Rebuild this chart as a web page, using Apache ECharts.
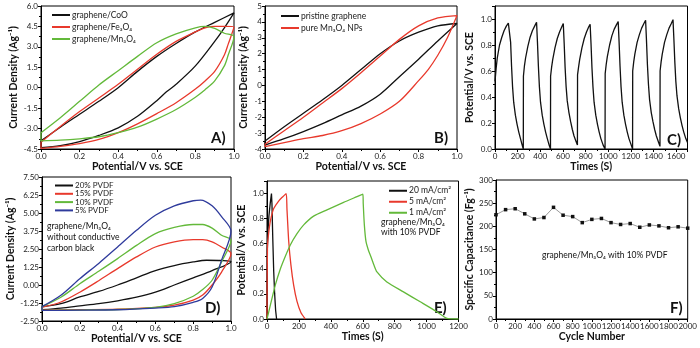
<!DOCTYPE html>
<html><head><meta charset="utf-8">
<script src="https://cdn.jsdelivr.net/npm/echarts@6/dist/echarts.min.js"></script>
<style>html,body{margin:0;padding:0;background:#fff}#c{width:700px;height:348px}</style>
</head><body><div id="c"></div>
<script>
// ---------- Panel A: CV curves ----------
const A_CoO = [[0,-3.9],[0.1,-2.9],[0.2,-1.95],[0.3,-1.0],[0.4,0.0],[0.5,1.2],[0.6,2.3],[0.7,3.25],[0.8,4.1],[0.9,4.8],[1.0,5.5],
  [0.95,4.4],[0.9,3.4],[0.8,1.6],[0.7,0.25],[0.65,-0.3],[0.6,-0.95],[0.5,-2.1],[0.4,-2.95],[0.3,-3.5],[0.2,-3.95],[0.1,-4.25],[0,-4.4],[0,-3.9]];
const A_Fe3O4 = [[0,-4.0],[0.1,-2.85],[0.2,-1.75],[0.3,-0.75],[0.4,0.25],[0.5,1.35],[0.6,2.45],[0.7,3.4],[0.8,4.1],[0.85,4.4],[0.9,4.5],[0.95,4.5],[1.0,4.45],
  [0.97,3.2],[0.95,2.4],[0.9,1.2],[0.85,0.5],[0.8,-0.1],[0.7,-1.1],[0.6,-1.9],[0.5,-2.65],[0.4,-3.3],[0.3,-3.8],[0.2,-4.1],[0.1,-4.3],[0,-4.45],[0,-4.0]];
const A_Mn3O4 = [[0,-3.3],[0.1,-2.2],[0.2,-1.0],[0.3,0.2],[0.4,1.25],[0.5,2.3],[0.6,3.3],[0.7,3.95],[0.8,4.4],[0.85,4.5],[0.9,4.35],[0.95,4.0],[1.0,3.75],
  [0.97,2.4],[0.95,1.6],[0.9,0.5],[0.85,-0.15],[0.8,-0.7],[0.7,-1.6],[0.6,-2.3],[0.5,-2.9],[0.4,-3.3],[0.3,-3.6],[0.2,-3.75],[0.1,-3.85],[0,-3.9],[0,-3.3]];
// ---------- Panel B ----------
const B_graphene = [[0,-3.5],[0.1,-2.6],[0.2,-1.75],[0.3,-0.9],[0.4,0.0],[0.5,1.0],[0.6,2.0],[0.7,2.8],[0.8,3.35],[0.9,3.75],[1.0,3.9],
  [0.9,2.8],[0.8,1.65],[0.7,0.55],[0.6,-0.55],[0.5,-1.3],[0.4,-1.85],[0.3,-2.4],[0.2,-2.9],[0.1,-3.35],[0,-3.75],[0,-3.5]];
const B_Mn3O4 = [[0,-3.7],[0.1,-2.85],[0.2,-2.0],[0.3,-1.1],[0.4,-0.2],[0.5,0.8],[0.6,1.85],[0.7,2.9],[0.8,3.75],[0.9,4.25],[1.0,4.4],
  [0.95,3.0],[0.9,1.9],[0.85,1.0],[0.8,0.3],[0.7,-1.0],[0.6,-1.8],[0.5,-2.4],[0.4,-2.85],[0.3,-3.15],[0.2,-3.35],[0.1,-3.6],[0,-3.85],[0,-3.7]];
// ---------- Panel C: charge/discharge cycles ----------
const C_potential = [
  [0,0.52],[10,0.62],[20,0.7],[40,0.8],[60,0.86],[80,0.91],[100,0.945],[118,0.968],[130,0.98],
  [138,0.82],[146,0.64],[155,0.48],[165,0.36],[180,0.26],[195,0.19],[210,0.13],[225,0.08],[240,0.03],[250,0.0],
  [251,0.56],[260,0.64],[270,0.7],[290,0.79],[310,0.86],[330,0.91],[350,0.945],[367,0.975],
  [375,0.82],[383,0.64],[392,0.48],[402,0.36],[417,0.26],[432,0.19],[447,0.13],[462,0.08],[478,0.03],[490,0.0],
  [491,0.56],[500,0.63],[510,0.69],[530,0.78],[550,0.85],[570,0.9],[590,0.94],[603,0.965],
  [611,0.81],[619,0.63],[628,0.48],[638,0.37],[653,0.28],[668,0.21],[683,0.15],[698,0.1],[715,0.06],[728,0.03],
  [729,0.57],[738,0.63],[748,0.69],[768,0.78],[788,0.85],[808,0.9],[828,0.94],[840,0.96],
  [848,0.81],[856,0.63],[865,0.48],[875,0.36],[890,0.26],[905,0.19],[920,0.13],[935,0.08],[955,0.03],[972,0.0],
  [973,0.58],[982,0.65],[992,0.71],[1012,0.8],[1032,0.87],[1052,0.92],[1072,0.955],[1088,0.98],
  [1096,0.82],[1104,0.64],[1113,0.48],[1123,0.36],[1138,0.26],[1153,0.19],[1168,0.13],[1183,0.08],[1203,0.03],[1215,0.0],
  [1216,0.6],[1225,0.67],[1235,0.73],[1255,0.82],[1275,0.88],[1295,0.93],[1315,0.965],[1330,0.99],
  [1338,0.83],[1346,0.65],[1355,0.5],[1365,0.38],[1380,0.28],[1395,0.21],[1410,0.15],[1425,0.1],[1445,0.05],[1457,0.02],
  [1458,0.6],[1467,0.67],[1477,0.73],[1497,0.82],[1517,0.88],[1537,0.93],[1557,0.965],[1572,0.995],
  [1580,0.84],[1588,0.67],[1597,0.52],[1607,0.41],[1622,0.31],[1637,0.24],[1652,0.18],[1667,0.13],[1685,0.08],[1700,0.05]];
// ---------- Panel D ----------
const D_20 = [[0,-1.5],[0.1,-1.3],[0.2,-0.83],[0.3,-0.45],[0.4,0.0],[0.5,0.5],[0.6,1.0],[0.7,1.35],[0.8,1.6],[0.87,1.72],[0.95,1.7],[1.0,1.62],
  [0.9,1.0],[0.8,0.5],[0.7,0.0],[0.6,-0.5],[0.5,-0.85],[0.4,-1.1],[0.3,-1.3],[0.2,-1.45],[0.1,-1.6],[0,-1.72],[0,-1.5]];
const D_15 = [[0,-1.55],[0.1,-1.18],[0.2,-0.5],[0.3,0.3],[0.4,1.14],[0.5,1.95],[0.6,2.64],[0.7,3.0],[0.8,3.15],[0.85,3.15],[0.9,3.0],[0.95,2.64],[1.0,2.18],
  [0.95,0.9],[0.9,0.0],[0.85,-0.7],[0.8,-1.05],[0.7,-1.4],[0.6,-1.55],[0.4,-1.68],[0.2,-1.72],[0,-1.75],[0,-1.55]];
const D_10 = [[0,-1.5],[0.1,-0.85],[0.2,0.09],[0.3,0.95],[0.4,1.83],[0.5,2.75],[0.6,3.57],[0.7,4.0],[0.8,4.2],[0.85,4.2],[0.9,3.95],[0.95,3.45],[1.0,3.1],
  [0.95,1.6],[0.9,0.33],[0.85,-0.32],[0.8,-0.78],[0.7,-1.3],[0.6,-1.55],[0.4,-1.7],[0.2,-1.74],[0,-1.76],[0,-1.5]];
const D_5 = [[0,-1.5],[0.1,-0.71],[0.2,0.44],[0.3,1.5],[0.4,2.64],[0.5,3.8],[0.6,4.84],[0.7,5.5],[0.8,5.85],[0.84,5.9],[0.9,5.5],[0.95,4.75],[1.0,3.75],
  [0.95,1.72],[0.9,-0.14],[0.85,-0.93],[0.8,-1.2],[0.7,-1.5],[0.6,-1.6],[0.4,-1.72],[0.2,-1.75],[0,-1.76],[0,-1.5]];
// ---------- Panel E ----------
const E_20 = [[0,0],[2,0.55],[6,0.7],[12,0.82],[20,0.92],[28,1.0],[31,0.92],[36,0.65],[42,0.38],[48,0.2],[54,0.07],[60,0.0]];
const E_5 = [[0,0],[3,0.58],[10,0.68],[21,0.78],[42,0.88],[73,0.94],[95,0.97],[120,1.0],[125,0.88],[136,0.62],[150,0.43],[167,0.27],[188,0.14],[213,0.05],[240,0.0]];
const E_1 = [[0,0],[21,0.11],[52,0.27],[84,0.4],[115,0.5],[146,0.59],[188,0.68],[230,0.75],[292,0.82],[376,0.87],[480,0.93],[564,0.975],[601,0.995],
  [603,0.92],[610,0.75],[620,0.62],[635,0.55],[650,0.5],[670,0.43],[689,0.375],[751,0.295],[855,0.216],[960,0.137],[1064,0.058],[1127,0.005],[1200,0.0]];
// ---------- Panel F ----------
const F_cycles = [0,100,200,300,400,500,600,700,800,900,1000,1100,1200,1300,1400,1500,1600,1700,1800,1900,2000];
const F_capacitance = [225,236,238,227,216,219,241,224,221,208,215,217,208,204,206,198,203,201,197,199,196];

const FONT = 'Lato, "Noto Sans", sans-serif';
const BLACK = '#111', RED = '#e8392c', GREEN = '#63b93a', BLUE = '#2f3b9c';

function grid(l,t,w,h){return {left:l,top:t,width:w,height:h,show:true,borderColor:'#000',borderWidth:1,backgroundColor:'transparent'};}
function axis(kind, gi, min, max, interval, dec, name, gap){
  return {type:'value', gridIndex:gi, min, max, interval, name, nameLocation:'middle', nameGap:gap,
    nameTextStyle:{fontWeight:'bold', fontSize:10.5, color:'#111', fontFamily:FONT},
    axisLine:{show:true, onZero:false, lineStyle:{color:'#000', width:1}},
    axisTick:{show:true, inside:false, length:3, lineStyle:{color:'#000'}},
    minorTick:{show:true, splitNumber:2, length:2, lineStyle:{color:'#000'}},
    axisLabel:{fontSize:8, color:'#222', margin:3, fontFamily:FONT,
      formatter: v => {
        const k = (v - min) / interval;
        if (Math.abs(k - Math.round(k)) > 1e-6) return '';
        return dec>=0 ? v.toFixed(dec) : String(v);
      }},
    splitLine:{show:false}, minorSplitLine:{show:false}};
}
function line(name, data, color, xi, smooth){
  return {type:'line', name, data, xAxisIndex:xi, yAxisIndex:xi, symbol:'none', smooth:smooth,
    lineStyle:{color, width:1.3}, itemStyle:{color}, animation:false, z:3};
}
function legend(names, left, top, gap, lh, fs){
  return {data:names, left, top, orient:'vertical', icon:'rect', itemWidth:18, itemHeight:2, itemGap:gap,
    textStyle:{fontSize:fs, lineHeight:lh, color:'#222', fontFamily:FONT, padding:[0,0,0,-3]}, padding:0, selectedMode:false};
}
function txt(x,y,s,size,weight,lh){
  return {type:'text', left:x, top:y, style:{text:s, fontSize:size, fontWeight:weight||'normal', fill:'#111', fontFamily:FONT, lineHeight:lh||size+2.5}};
}

const YCD = 'Current Density (Ag⁻¹)';
const XPOT = 'Potential/V vs. SCE';
const YPOT = 'Potential/V vs. SCE';

const option = {
  backgroundColor:'#fff',
  animation:false,
  grid:[grid(41,6,193,143), grid(265,6,192,143), grid(495,6,192.5,143),
        grid(42,177,189,144), grid(267,181,191.5,138), grid(496,180,191.7,139)],
  xAxis:[axis('x',0,0,1,0.2,1,XPOT,11), axis('x',1,0,1,0.2,1,XPOT,11), axis('x',2,0,1700,200,-1,'Times (S)',11),
         axis('x',3,0,1,0.2,1,XPOT,11), axis('x',4,0,1200,200,-1,'Times (S)',11), axis('x',5,0,2000,200,-1,'Cycle Number',11)],
  yAxis:[axis('y',0,-4.5,6,1.5,1,YCD,22), axis('y',1,-4,5,1,-1,YCD,16), axis('y',2,0,1.1,0.2,1,YPOT,20),
         axis('y',3,-2.5,7.5,1.25,2,YCD,26), axis('y',4,0,1.1,0.2,1,YPOT,20), axis('y',5,0,300,50,-1,'Specific Capacitance (Fg⁻¹)',20)],
  legend:[legend(['graphene/CoO','graphene/Fe₃O₄','graphene/Mn₃O₄'],52,10,2,10,8.5),
          legend(['pristine graphene','pure Mn₃O₄ NPs'],281,11,2,10,8.5),
          legend(['20% PVDF','15% PVDF','10% PVDF','5% PVDF'],55,181.5,0.3,8,8),
          legend(['20 mA/cm²','5 mA/cm²','1 mA/cm²'],389,186,1.5,9.5,8.5)],
  series:[
    line('graphene/CoO',A_CoO,BLACK,0,0.3), line('graphene/Fe₃O₄',A_Fe3O4,RED,0,0.3), line('graphene/Mn₃O₄',A_Mn3O4,GREEN,0,0.3),
    line('pristine graphene',B_graphene,BLACK,1,0.3), line('pure Mn₃O₄ NPs',B_Mn3O4,RED,1,0.3),
    line('C',C_potential,BLACK,2,false),
    line('20% PVDF',D_20,BLACK,3,0.3), line('15% PVDF',D_15,RED,3,0.3), line('10% PVDF',D_10,GREEN,3,0.3), line('5% PVDF',D_5,BLUE,3,0.3),
    line('20 mA/cm²',E_20,BLACK,4,false), line('5 mA/cm²',E_5,RED,4,0.2), line('1 mA/cm²',E_1,GREEN,4,0.2),
    {type:'line', name:'F', data:F_cycles.map((c,i)=>[c,F_capacitance[i]]), xAxisIndex:5, yAxisIndex:5,
      symbol:'rect', symbolSize:3.5, itemStyle:{color:'#111'}, lineStyle:{color:'#999', width:1}, animation:false}
  ],
  graphic:[
    txt(211,129,'A)',15,'bold'), txt(434,129,'B)',15,'bold'), txt(667,131,'C)',15,'bold'),
    txt(205,299,'D)',15,'bold'), txt(434,299,'E)',15,'bold'), txt(670,299,'F)',15,'bold'),
    txt(47,221,'graphene/Mn₃O₄\nwithout conductive\ncarbon black',8.5,'normal',11),
    txt(381,217,'graphene/Mn₃O₄\nwith 10% PVDF',8.5,'normal',10),
    txt(542,250,'graphene/Mn₃O₄ with 10% PVDF',8.5)
  ]
};
echarts.init(document.getElementById('c'),null,{renderer:'canvas'}).setOption(option);
</script></body></html>
